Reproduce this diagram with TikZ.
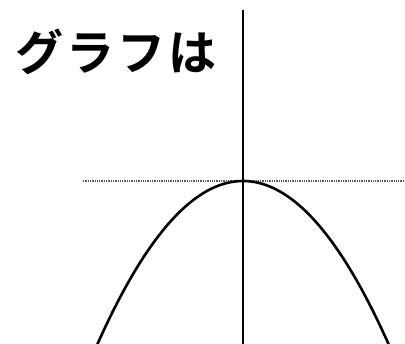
\documentclass[tikz,border=0pt]{standalone}
\usepackage{fontspec}
\newfontfamily\jpfont{Noto Sans CJK JP}[BoldFont={* Bold},LetterSpace=6]
\usepackage{tikz}

\begin{document}
\begin{tikzpicture}[x=1pt,y=1pt,
    axisline/.style={line width=1.5pt},
    guideline/.style={gray!70!black,line width=1.3pt,densely dotted},
    curveline/.style={line width=2.6pt}]
  \useasboundingbox (0,0) rectangle (405,344);
  % axes
  \coordinate (vtop) at (243,334);
  \coordinate (vbot) at (243,0);
  \coordinate (hleft) at (83,163);
  \coordinate (hright) at (405,163);
  \draw[guideline] (hleft) -- (hright);
  \draw[axisline] (vtop) -- (vbot);
  % parabola
  \begin{scope}
    \clip (0,0) rectangle (405,344);
    \draw[curveline,smooth] plot[domain=-1.48:1.5,samples=80] ({243+100*\x},{163-77*\x*\x});
  \end{scope}
  \node[font=\jpfont\bfseries\fontsize{48}{50}\selectfont,inner sep=0pt] (title) at (116,292) {グラフは};
\end{tikzpicture}
\end{document}
